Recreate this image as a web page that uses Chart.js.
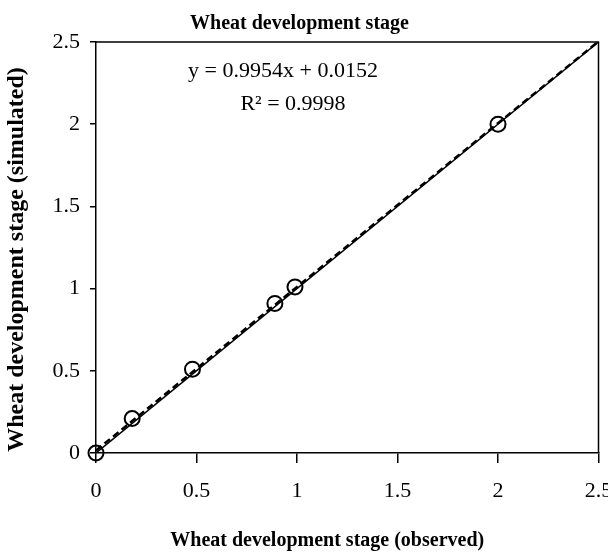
<!DOCTYPE html>
<html>
<head>
<meta charset="utf-8">
<script src="https://cdn.jsdelivr.net/npm/chart.js@4"></script>
<style>
  html, body { margin: 0; padding: 0; background: #fff; }
  #wrap { width: 608px; height: 553px; }
</style>
</head>
<body>
<div id="wrap"><canvas id="stage"></canvas></div>
<script>
// observed vs simulated development stage
const observed = [0, 0.18, 0.48, 0.89, 0.99, 2.0];
const simulated = [0, 0.21, 0.51, 0.91, 1.01, 2.0];

// 1:1 line and fitted line end points
const oneToOneX = [0, 2.5];
const oneToOneY = [0, 2.5];
const fitX = [0, 2.5];
const fitY = [0.0152, 2.5037];

const axisTicks = [0, 0.5, 1, 1.5, 2, 2.5];
const equationText = 'y = 0.9954x + 0.0152';
const r2Text = 'R\u00b2 = 0.9998';

const serif = "'Liberation Serif', 'Times New Roman', serif";

// box around the plot + regression text
const frameAndText = {
    id: 'frameAndText',
    afterDraw(chart) {
        const {ctx, chartArea: a} = chart;
        ctx.save();
        ctx.strokeStyle = '#000';
        ctx.lineWidth = 1.5;
        ctx.beginPath();
        ctx.moveTo(a.left, a.top);
        ctx.lineTo(a.right, a.top);
        ctx.lineTo(a.right, a.bottom);
        ctx.stroke();
        ctx.fillStyle = '#000';
        ctx.font = '22px ' + serif;
        ctx.textAlign = 'center';
        ctx.textBaseline = 'middle';
        ctx.fillText(equationText, 283, 71);
        ctx.fillText(r2Text, 293, 104);
        ctx.restore();
    }
};

function toPoints(xs, ys) {
    return xs.map((x, i) => ({x: x, y: ys[i]}));
}

document.addEventListener('DOMContentLoaded', function() {
    const ctx = document.getElementById('stage');
    new Chart(ctx, {
        type: 'scatter',
        data: {
            datasets: [{
                label: 'Observed vs simulated',
                data: toPoints(observed, simulated),
                pointStyle: 'circle',
                pointRadius: 7.5,
                pointBorderWidth: 2,
                pointBorderColor: '#000',
                pointBackgroundColor: 'rgba(0,0,0,0)',
                showLine: false,
                clip: false,
                order: 0
            }, {
                label: '1:1',
                data: toPoints(oneToOneX, oneToOneY),
                showLine: true,
                borderColor: '#000',
                borderWidth: 1.5,
                pointRadius: 0,
                order: 2
            }, {
                label: 'Linear fit',
                data: toPoints(fitX, fitY),
                showLine: true,
                borderColor: '#000',
                borderWidth: 2.5,
                borderDash: [7, 4],
                pointRadius: 0,
                order: 1
            }]
        },
        options: {
            responsive: true,
            maintainAspectRatio: false,
            animation: false,
            layout: { padding: { left: 0, right: 9, top: 0, bottom: 0 } },
            plugins: {
                legend: { display: false },
                tooltip: { enabled: false },
                title: {
                    display: true,
                    text: 'Wheat development stage',
                    color: '#000',
                    font: { family: serif, size: 20, weight: 'bold' },
                    padding: { top: 12, bottom: 6 }
                }
            },
            scales: {
                x: {
                    type: 'linear',
                    min: 0,
                    max: 2.5,
                    afterBuildTicks: s => { s.ticks = axisTicks.map(v => ({value: v})); },
                    afterFit: s => { s.height = 100; s.paddingLeft = 0; s.paddingRight = 0; },
                    border: { color: '#000', width: 1.5 },
                    grid: { drawOnChartArea: false, drawTicks: true, tickLength: 10, color: '#000', lineWidth: 1.5 },
                    ticks: { color: '#000', font: { family: serif, size: 22 }, padding: 15, maxRotation: 0,
                             callback: v => String(v) },
                    title: {
                        display: true,
                        text: 'Wheat development stage (observed)\u2002\u2002\u2002\u2002',
                        color: '#000',
                        font: { family: serif, size: 20, weight: 'bold' },
                        padding: { top: 10, bottom: 0 }
                    }
                },
                y: {
                    type: 'linear',
                    min: 0,
                    max: 2.5,
                    afterBuildTicks: s => { s.ticks = axisTicks.map(v => ({value: v})); },
                    afterFit: s => { s.width = 96; },
                    border: { color: '#000', width: 1.5 },
                    grid: { drawOnChartArea: false, drawTicks: true, tickLength: 6, color: '#000', lineWidth: 1.5 },
                    ticks: { color: '#000', font: { family: serif, size: 22 }, padding: 10,
                             callback: v => String(v) },
                    title: {
                        display: true,
                        text: 'Wheat development stage (simulated)\u2002\u2002',
                        color: '#000',
                        font: { family: serif, size: 24, weight: 'bold' },
                        padding: { top: 2, bottom: 2 }
                    }
                }
            }
        },
        plugins: [frameAndText]
    });
});
</script>
</body>
</html>
